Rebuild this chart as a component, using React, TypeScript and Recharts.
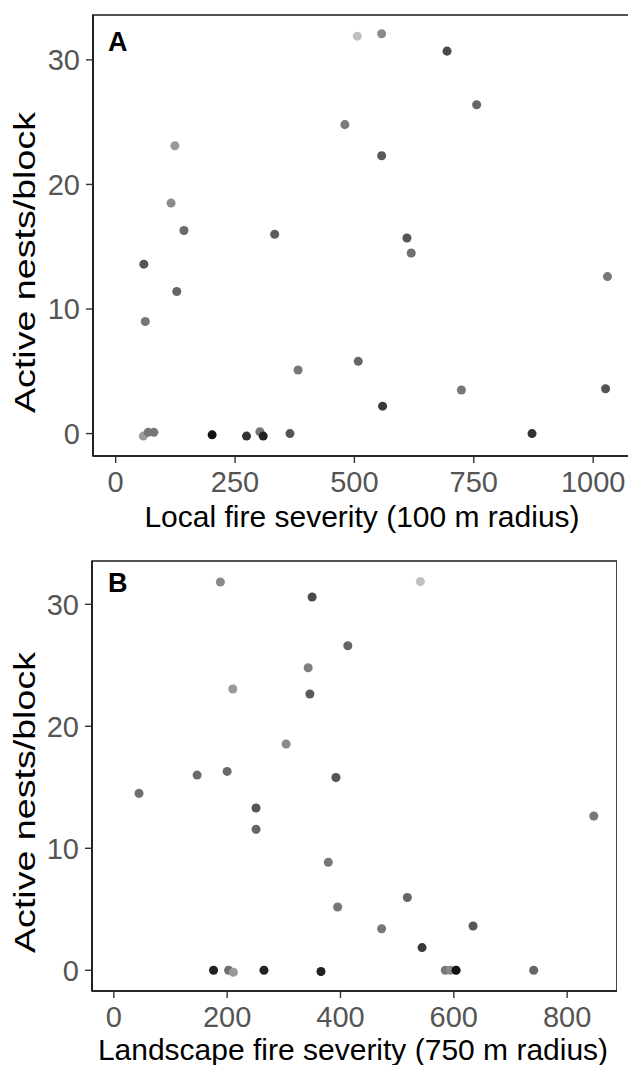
import { ScatterChart, Scatter, XAxis, YAxis, ZAxis, Cell, ReferenceArea } from 'recharts';

// Panel A: local fire severity (100 m radius)
const localSeverity = [506, 557, 694, 756, 480, 124, 557, 116, 143, 333, 610, 619, 59, 1030, 128, 62, 508, 382, 1026, 724, 559, 58, 68, 80, 202, 274, 302, 309, 365, 872];
const localNests = [31.9, 32.1, 30.7, 26.4, 24.8, 23.1, 22.3, 18.5, 16.3, 16.0, 15.7, 14.5, 13.6, 12.6, 11.4, 9.0, 5.8, 5.1, 3.6, 3.5, 2.2, -0.2, 0.1, 0.1, -0.1, -0.2, 0.15, -0.2, 0.0, 0.0];
const localTone = [192, 138, 74, 102, 122, 153, 90, 138, 106, 94, 85, 112, 85, 119, 102, 119, 102, 119, 85, 119, 58, 153, 119, 119, 17, 51, 119, 34, 85, 51];

// Panel B: landscape fire severity (750 m radius)
const landscapeSeverity = [188, 350, 343, 346, 210, 304, 147, 200, 541, 413, 392, 44.5, 251, 251, 847, 378.5, 518, 395, 472.6, 634, 544, 176, 202.6, 211, 265, 365.6, 585, 594, 604, 741];
const landscapeNests = [31.83, 30.6, 24.8, 22.65, 23.06, 18.55, 16.0, 16.3, 31.86, 26.6, 15.8, 14.5, 13.3, 11.55, 12.65, 8.85, 5.96, 5.19, 3.4, 3.63, 1.86, 0, 0, -0.16, 0, -0.1, 0, 0, 0, 0];
const landscapeTone = [138, 74, 128, 90, 153, 138, 106, 106, 192, 102, 85, 112, 85, 102, 119, 119, 102, 119, 119, 85, 58, 34, 112, 153, 34, 34, 119, 136, 17, 102];

const localTicks = [0, 250, 500, 750, 1000];
const landscapeTicks = [0, 200, 400, 600, 800];
const nestTicks = [0, 10, 20, 30];

const FONT = '"Liberation Sans", Arial, Helvetica, sans-serif';
const LINE = '#1a1a1a';
const grey = (t: number) => `rgb(${t},${t},${t})`;

const toPoints = (xs: number[], ys: number[], tones: number[]) =>
  xs.map((x, i) => ({ x, y: ys[i], tone: tones[i] }));

interface PanelProps {
  points: { x: number; y: number; tone: number }[];
  letter: string;
  xTitle: string;
  xDomain: [number, number];
  yDomain: [number, number];
  xTicks: number[];
  width: number;
  height: number;
  top: number;
  marginTop: number;
  yAxisWidth: number;
  xAxisHeight: number;
  titleOffset: number;
  titleX: number;
  letterY: number;
  yTitleStart: number;
}

function Panel({
  points, letter, xTitle, xDomain, yDomain, xTicks, width, height, top, marginTop,
  yAxisWidth, xAxisHeight, titleOffset, titleX, letterY, yTitleStart,
}: PanelProps) {
  const tickStyle = { fill: '#555', fontSize: 29, fontFamily: FONT };
  return (
    <div style={{ position: 'absolute', left: 0, top }}>
      <ScatterChart width={width} height={height} margin={{ top: marginTop, right: 0, bottom: 0, left: 0 }}>
        <XAxis
          dataKey="x"
          type="number"
          domain={xDomain}
          allowDataOverflow
          ticks={xTicks}
          height={xAxisHeight}
          tickSize={7}
          tickMargin={8}
          tick={tickStyle}
          axisLine={{ stroke: LINE, strokeWidth: 1.6 }}
          tickLine={{ stroke: '#333', strokeWidth: 1.4 }}
          label={(props: any) => (
            <text
              x={titleX}
              y={props.viewBox.y + props.viewBox.height - titleOffset}
              textAnchor="middle"
              fontSize={30}
              fontFamily={FONT}
              fill="#000"
            >
              {xTitle}
            </text>
          )}
        />
        <YAxis
          dataKey="y"
          type="number"
          domain={yDomain}
          allowDataOverflow
          ticks={nestTicks}
          width={yAxisWidth}
          tickSize={7}
          tickMargin={6}
          tick={tickStyle}
          axisLine={{ stroke: LINE, strokeWidth: 1.6 }}
          tickLine={{ stroke: '#333', strokeWidth: 1.4 }}
          label={() => (
            <text
              x={35}
              y={yTitleStart}
              transform={`rotate(-90 35 ${yTitleStart})`}
              textLength={301}
              lengthAdjust="spacingAndGlyphs"
              fontSize={30}
              fontFamily={FONT}
              fill="#000"
            >
              Active nests/block
            </text>
          )}
        />
        <ZAxis type="number" range={[82, 82]} />
        <ReferenceArea
          x1={xDomain[0]}
          x2={xDomain[1]}
          y1={yDomain[0]}
          y2={yDomain[1]}
          fill="none"
          stroke={LINE}
          strokeWidth={1.6}
          ifOverflow="visible"
          label={() => (
            <text x={108} y={letterY} fontSize={27} fontWeight="bold" fontFamily={FONT} fill="#000">
              {letter}
            </text>
          )}
        />
        <Scatter data={points} isAnimationActive={false}>
          {points.map((p, i) => (
            <Cell key={i} fill={grey(p.tone)} />
          ))}
        </Scatter>
      </ScatterChart>
    </div>
  );
}

export default function App() {
  return (
    <div style={{ position: 'absolute', left: 0, top: 0, width: 628, height: 1065, overflow: 'hidden', background: '#fff', fontFamily: FONT }}>
      <Panel
        points={toPoints(localSeverity, localNests, localTone)}
        letter="A"
        xTitle="Local fire severity (100 m radius)"
        xDomain={[-47.5, 1140]}
        yDomain={[-1.8, 33.6]}
        xTicks={localTicks}
        width={660}
        height={540}
        top={0}
        marginTop={15}
        yAxisWidth={93}
        xAxisHeight={84}
        titleOffset={13}
        titleX={362}
        letterY={51}
        yTitleStart={413}
      />
      <Panel
        points={toPoints(landscapeSeverity, landscapeNests, landscapeTone)}
        letter="B"
        xTitle="Landscape fire severity (750 m radius)"
        xDomain={[-38.5, 888]}
        yDomain={[-1.7, 33.55]}
        xTicks={landscapeTicks}
        width={617}
        height={525}
        top={540}
        marginTop={21}
        yAxisWidth={92}
        xAxisHeight={74}
        titleOffset={5}
        titleX={353}
        letterY={52}
        yTitleStart={413}
      />
    </div>
  );
}
